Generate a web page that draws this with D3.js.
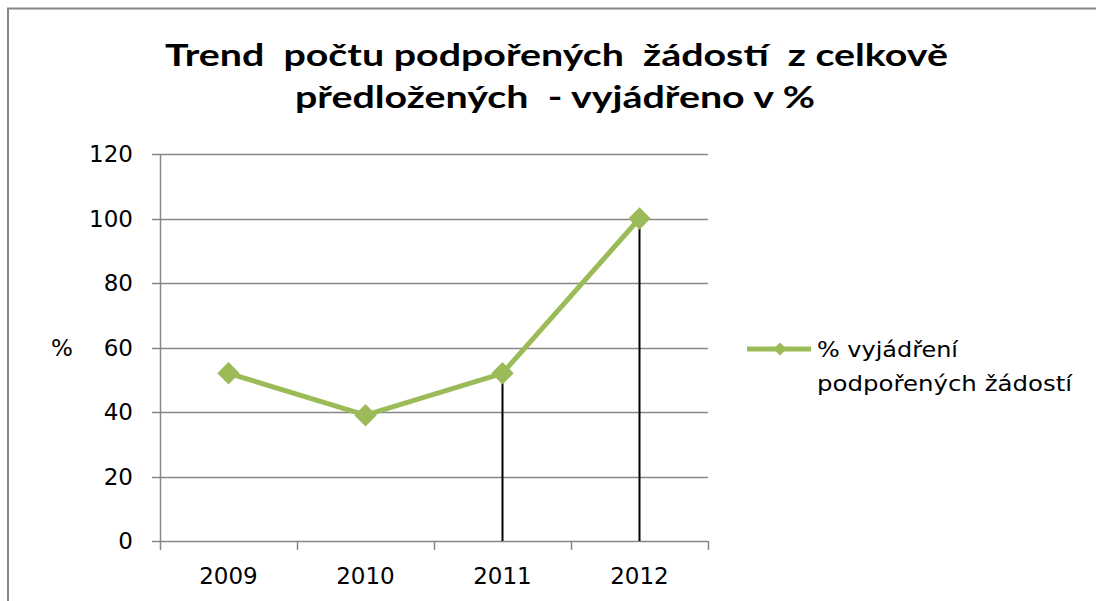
<!DOCTYPE html>
<html>
<head>
<meta charset="utf-8">
<script src="https://cdn.jsdelivr.net/npm/d3@7"></script>
<style>
body { margin: 0; background: #fff; }
text { font-family: "DejaVu Sans", sans-serif; fill: #000; white-space: pre; }
</style>
</head>
<body>
<script>
// chart data
var years = ["2009", "2010", "2011", "2012"];
var values = [52, 39, 52, 100];
var dropYears = ["2011", "2012"];
var yTicks = [0, 20, 40, 60, 80, 100, 120];
var titleLines = ["Trend  počtu podpořených  žádostí  z celkově", "předložených  - vyjádřeno v %"];
var legendLines = ["% vyjádření", "podpořených žádostí"];

var green = "#9bbb59";
var gridColor = "#868686";

var svg = d3.select("body").append("svg")
	.attr("width", 1096).attr("height", 601);

// outer frame (top and left edges only visible)
svg.append("line").attr("x1", 7).attr("x2", 1096).attr("y1", 8.5).attr("y2", 8.5)
	.attr("stroke", gridColor).attr("stroke-width", 2);
svg.append("line").attr("x1", 8).attr("x2", 8).attr("y1", 8).attr("y2", 601)
	.attr("stroke", gridColor).attr("stroke-width", 2);

// title - stretched to the width of the original
var titleBox = [{x: 165, w: 783}, {x: 295, w: 520}];
svg.selectAll(".title").data(titleLines).enter().append("text")
	.attr("class", "title")
	.attr("x", function(d, i) { return titleBox[i].x; })
	.attr("y", function(d, i) { return 66 + i * 42; })
	.attr("textLength", function(d, i) { return titleBox[i].w; })
	.attr("lengthAdjust", "spacingAndGlyphs")
	.style("font-family", "Lato, sans-serif")
	.style("font-size", "31px")
	.style("font-weight", "bold")
	.text(function(d) { return d; });

var x = d3.scaleBand().domain(years).range([160, 708]);
var y = d3.scaleLinear().domain([0, 120]).range([541, 154]);

// gridlines
svg.append("g").selectAll("line").data(yTicks).enter().append("line")
	.attr("x1", 152).attr("x2", 708)
	.attr("y1", function(d) { return Math.round(y(d)) + 0.5; })
	.attr("y2", function(d) { return Math.round(y(d)) + 0.5; })
	.attr("stroke", gridColor).attr("stroke-width", 1.5);

// y axis
svg.append("line").attr("x1", 160.5).attr("x2", 160.5).attr("y1", y(120)).attr("y2", y(0))
	.attr("stroke", gridColor).attr("stroke-width", 1.5);
svg.append("g").selectAll("text").data(yTicks).enter().append("text")
	.attr("x", 133)
	.attr("y", function(d) { return y(d); })
	.attr("dy", "0.36em")
	.attr("text-anchor", "end")
	.style("font-size", "23px")
	.text(function(d) { return d; });

svg.append("text").attr("x", 62).attr("y", y(60)).attr("dy", "0.36em")
	.attr("text-anchor", "middle").style("font-size", "23px").text("%");

// x axis ticks at band boundaries
var bounds = years.map(function(d) { return x(d); }).concat([x.range()[1]]);
svg.append("g").selectAll("line").data(bounds).enter().append("line")
	.attr("x1", function(d) { return Math.round(d) + 0.5; })
	.attr("x2", function(d) { return Math.round(d) + 0.5; })
	.attr("y1", y(0)).attr("y2", y(0) + 9)
	.attr("stroke", gridColor).attr("stroke-width", 1.5);
svg.append("g").selectAll("text").data(years).enter().append("text")
	.attr("x", function(d) { return x(d) + x.bandwidth() / 2; })
	.attr("y", 584)
	.attr("text-anchor", "middle")
	.style("font-size", "23px")
	.text(function(d) { return d; });

var data = years.map(function(d, i) { return {year: d, value: values[i]}; });
var cx = function(d) { return x(d.year) + x.bandwidth() / 2; };

// drop lines
svg.append("g").selectAll("line")
	.data(data.filter(function(d) { return dropYears.indexOf(d.year) >= 0; }))
	.enter().append("line")
	.attr("x1", cx).attr("x2", cx)
	.attr("y1", function(d) { return y(d.value); }).attr("y2", y(0))
	.attr("stroke", "#000").attr("stroke-width", 2);

// series line
svg.append("path").datum(data)
	.attr("d", d3.line().x(cx).y(function(d) { return y(d.value); }))
	.attr("fill", "none").attr("stroke", green).attr("stroke-width", 5)
	.attr("stroke-linejoin", "round");

var diamond = d3.symbol().type(d3.symbolDiamond2).size(320);
svg.append("g").selectAll("path").data(data).enter().append("path")
	.attr("d", diamond)
	.attr("transform", function(d) { return "translate(" + cx(d) + "," + y(d.value) + ")"; })
	.attr("fill", green);

// legend
svg.append("line").attr("x1", 747).attr("x2", 811).attr("y1", 349).attr("y2", 349)
	.attr("stroke", green).attr("stroke-width", 5);
svg.append("path").attr("d", d3.symbol().type(d3.symbolDiamond2).size(110))
	.attr("transform", "translate(780,349)").attr("fill", green);
var legendWidth = [141, 255];
svg.selectAll(".legend").data(legendLines).enter().append("text")
	.attr("class", "legend")
	.attr("x", 817)
	.attr("y", function(d, i) { return 357 + i * 34; })
	.attr("textLength", function(d, i) { return legendWidth[i]; })
	.attr("lengthAdjust", "spacingAndGlyphs")
	.style("font-size", "22px")
	.text(function(d) { return d; });
</script>
</body>
</html>
